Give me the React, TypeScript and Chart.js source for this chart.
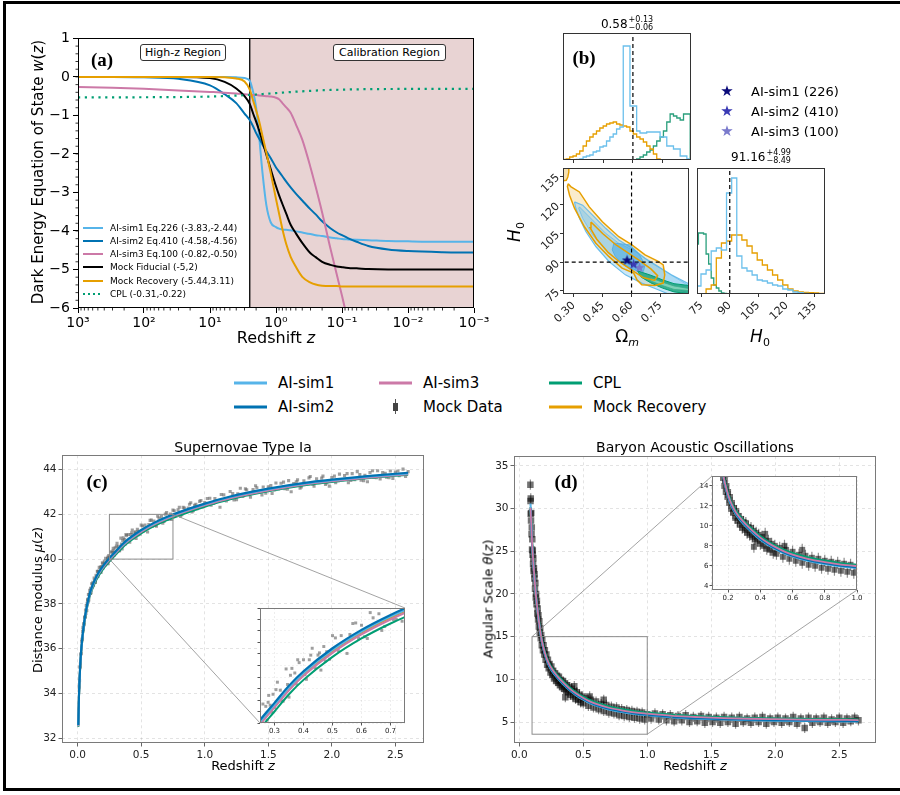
import React, { useEffect, useRef } from "react";
import { Chart, registerables } from "chart.js";

Chart.register(...registerables);

const FONT = "'DejaVu Sans', 'Noto Sans', sans-serif";
const SERIF = "'Liberation Serif', 'DejaVu Serif', serif";
Chart.defaults.font.family = FONT;
Chart.defaults.color = "#000";

const C_SIM1 = "#56B4E9";
const C_SIM2 = "#0072B2";
const C_SIM3 = "#CC79A7";
const C_FID = "#000000";
const C_REC = "#E69F00";
const C_CPL = "#009E73";

// ================= Panel (a): dark energy equation of state =================
const wZ = [1000, 300, 100, 30, 10, 6, 4, 3, 2.5, 2.2, 2.0, 1.8, 1.6, 1.4, 1.2, 1.0, 0.9, 0.8, 0.7, 0.6, 0.5, 0.4, 0.3, 0.25, 0.2, 0.15, 0.12, 0.1, 0.08, 0.06, 0.04, 0.02, 0.01, 0.003, 0.001];
const wSim1 = [0, 0, 0, 0, 0, 0, -0.01, -0.03, -0.1, -0.42, -0.8, -1.55, -2.5, -3.33, -3.78, -3.9, -3.94, -3.96, -3.97, -3.98, -4.01, -4.04, -4.08, -4.11, -4.13, -4.17, -4.19, -4.21, -4.22, -4.23, -4.24, -4.26, -4.27, -4.28, -4.28];
const wSim2 = [0, 0, -0.01, -0.05, -0.22, -0.45, -0.68, -0.95, -1.12, -1.3, -1.46, -1.6, -1.76, -1.93, -2.11, -2.35, -2.46, -2.58, -2.72, -2.87, -3.03, -3.21, -3.44, -3.57, -3.75, -3.93, -4.04, -4.11, -4.19, -4.28, -4.39, -4.48, -4.52, -4.55, -4.56];
const wSim3 = [-0.26, -0.28, -0.31, -0.35, -0.39, -0.41, -0.43, -0.45, -0.46, -0.47, -0.47, -0.48, -0.49, -0.5, -0.51, -0.54, -0.58, -0.68, -0.79, -0.93, -1.23, -1.63, -2.35, -2.86, -3.52, -4.45, -5.13, -5.68, -6.4, -7.3, -8.5, -10.5, -12.5, -16, -19];
const wFid = [0, 0, 0, 0, -0.03, -0.13, -0.3, -0.5, -0.7, -0.97, -1.16, -1.39, -1.68, -2.02, -2.4, -2.84, -3.07, -3.3, -3.55, -3.84, -4.06, -4.31, -4.58, -4.68, -4.8, -4.88, -4.92, -4.94, -4.96, -4.97, -4.99, -5.0, -5.0, -5.0, -5.0];
const wRec = [0, 0, 0, 0, 0, -0.01, -0.04, -0.12, -0.33, -0.64, -0.87, -1.15, -1.54, -1.97, -2.5, -3.17, -3.54, -3.95, -4.34, -4.67, -4.93, -5.19, -5.34, -5.39, -5.42, -5.43, -5.43, -5.44, -5.44, -5.44, -5.44, -5.44, -5.44, -5.44, -5.44];
const wCPL = [-0.53, -0.53, -0.528, -0.523, -0.51, -0.499, -0.486, -0.475, -0.467, -0.461, -0.457, -0.451, -0.445, -0.438, -0.43, -0.42, -0.414, -0.408, -0.401, -0.393, -0.383, -0.373, -0.361, -0.354, -0.347, -0.339, -0.334, -0.33, -0.326, -0.322, -0.318, -0.314, -0.312, -0.311, -0.31];
const wLegendLabels = ["AI-sim1 Eq.226 (-3.83,-2.44)", "AI-sim2 Eq.410 (-4.58,-4.56)", "AI-sim3 Eq.100 (-0.82,-0.50)", "Mock Fiducial (-5,2)", "Mock Recovery (-5.44,3.11)", "CPL (-0.31,-0.22)"];
const wXTicks = [1000, 100, 10, 1, 0.1, 0.01, 0.001];
const wXTickLabels = ["10³", "10²", "10¹", "10⁰", "10⁻¹", "10⁻²", "10⁻³"];
const wYTicks = [1, 0, -1, -2, -3, -4, -5, -6];
const wXRange = [0.001, 1000];
const wYRange = [-6, 1];
const calibZ = [2.5, 0.001];

// ================= Panel (b): corner plot =================
const omRange = [0.245, 0.895];
const h0Range = [73.4, 139.2];
const h0HistRange = [72.7, 140.3];
const omTicks = [0.3, 0.45, 0.6, 0.75];
const h0Ticks = [75, 90, 105, 120, 135];
const omTruth = 0.6;
const h0Truth = 90;
const omEdges = [0.245, 0.262, 0.279, 0.296, 0.313, 0.33, 0.347, 0.364, 0.381, 0.398, 0.415, 0.432, 0.449, 0.466, 0.483, 0.5, 0.517, 0.534, 0.551, 0.568, 0.585, 0.602, 0.619, 0.636, 0.653, 0.67, 0.687, 0.704, 0.721, 0.738, 0.755, 0.772, 0.789, 0.806, 0.823, 0.84, 0.857, 0.874, 0.891];
const omHistSim1 = [0, 0, 0, 0, 0.5, 1, 3, 4, 5, 8, 9, 13, 14, 19, 23, 26, 31, 33, 114, 114, 54, 54, 29, 27, 27, 28, 28, 28, 28, 23, 23, 14, 14, 11, 11, 4, 4, 1];
const omHistRec = [0.5, 1, 3, 4, 6, 9, 14, 19, 23, 26, 29, 32, 34, 36, 37, 38, 36, 35, 34, 33, 29, 26, 23, 21, 18, 14, 11, 6, 1, 0, 0, 0, 0, 0, 0, 0, 0, 0];
const omHistCPL = [0, 0, 0, 0, 0, 0, 0, 0, 0, 0, 0, 0, 0, 0, 0, 0, 0, 0, 0, 0, 0, 0, 1, 3, 5, 8, 10, 14, 19, 23, 29, 38, 46, 44, 42, 40, 46, 46];
const h0Edges = [72.1, 74.8, 77.5, 80.2, 82.9, 85.6, 88.3, 91.0, 93.7, 96.4, 99.1, 101.8, 104.5, 107.2, 109.9, 112.6, 115.3, 118.0, 120.7, 123.4, 126.1, 128.8, 131.5, 134.2, 136.9, 139.6];
const h0HistSim1 = [8, 20, 24, 43, 46, 44, 101, 116, 38, 26, 23, 19, 14, 13, 11, 9, 8, 5, 4, 2, 1.3, 0.7, 0, 0, 0];
const h0HistRec = [0, 0, 5, 9, 36, 51, 53, 59, 59, 54, 48, 41, 34, 29, 24, 19, 14, 9, 5, 3, 2, 1.7, 1.3, 1, 0.7];
const h0EdgesCPL = [72.1, 73.45, 74.8, 76.15, 77.5, 78.85, 80.2, 81.55, 82.9, 84.25, 85.6, 86.95, 88.3];
const h0HistCPL = [50, 61, 61, 60, 40, 30, 16, 9, 6, 3, 1, 0.5];

const ctrRecBlobOm = [0.245, 0.276, 0.275, 0.27, 0.262, 0.245];
const ctrRecBlobH0 = [140, 140, 137, 134.5, 132.8, 132.5];
const ctrRecOuterOm = [0.272, 0.285, 0.33, 0.381, 0.449, 0.534, 0.602, 0.67, 0.738, 0.764, 0.772, 0.764, 0.721, 0.653, 0.628, 0.611, 0.551, 0.483, 0.415, 0.356, 0.305, 0.279, 0.268];
const ctrRecOuterH0 = [131.0, 129.5, 126.7, 118.9, 111.1, 103.3, 99.0, 93.8, 90.4, 88.6, 83.4, 79.1, 77.9, 78.2, 80.8, 84.3, 86.9, 92.9, 99.9, 108.5, 118.1, 125.0, 129.5];
const ctrRecInnerOm = [0.39, 0.45, 0.52, 0.58, 0.64, 0.7, 0.735, 0.72, 0.66, 0.6, 0.54, 0.48, 0.42, 0.385];
const ctrRecInnerH0 = [111, 105, 99, 95, 91, 86.5, 83, 80.5, 82, 86, 90, 95, 102, 108];
const ctrSim1OuterOm = [0.3045, 0.347, 0.398, 0.466, 0.534, 0.602, 0.67, 0.738, 0.806, 0.9, 0.9, 0.8, 0.738, 0.653, 0.568, 0.483, 0.415, 0.364, 0.33, 0.3095];
const ctrSim1OuterH0 = [121.5, 119.8, 114.6, 107.7, 101.6, 97.3, 92.1, 87.8, 83.4, 78.5, 73, 73, 75.6, 79.1, 83.4, 90.4, 98.2, 105.9, 112.9, 118.9];
const ctrSim1MidOm = [0.33, 0.398, 0.466, 0.534, 0.619, 0.704, 0.789, 0.9, 0.9, 0.789, 0.704, 0.619, 0.534, 0.466, 0.398, 0.347, 0.3265];
const ctrSim1MidH0 = [118.9, 112, 105.1, 99.9, 95.6, 89.5, 84.3, 77.5, 73.5, 78.2, 82.6, 86.0, 90.4, 96.4, 104.2, 112.9, 118.1];
const ctrSim1CoreOm = [0.5085, 0.5935, 0.636, 0.67, 0.6615, 0.6105, 0.5595, 0.517, 0.5];
const ctrSim1CoreH0 = [100, 99, 94.7, 88.6, 85.2, 86.0, 88.6, 92.9, 96.4];
const ctrCplOuterOm = [0.63, 0.7, 0.76, 0.82, 0.9, 0.9, 0.82, 0.76, 0.7, 0.65];
const ctrCplOuterH0 = [85.5, 83.2, 80.8, 78.8, 77.8, 73.5, 74.5, 76.5, 79.2, 82.2];
const ctrCplInnerOm = [0.7, 0.76, 0.82, 0.9, 0.9, 0.82, 0.76, 0.7];
const ctrCplInnerH0 = [81.8, 79.6, 77.6, 76.2, 75.2, 75.8, 77.8, 80.2];
const starOm = [0.5765, 0.6105, 0.641];
const starH0 = [91.2, 89.1, 87.4];
const starColors = ["#0a0a7a", "#3a3ab4", "#7a7acc"];
const starLabels = ["AI-sim1 (226)", "AI-sim2 (410)", "AI-sim3 (100)"];

// ================= Panel (c): supernovae =================
const snXRange = [-0.123, 2.725];
const snYRange = [31.78, 44.64];
const snXTicks = [0, 0.5, 1, 1.5, 2, 2.5];
const snYTicks = [32, 34, 36, 38, 40, 42, 44];
const snInsetX = [0.25, 0.75];
const snInsetY = [40, 42];
const snInsetXTicks = [0.3, 0.4, 0.5, 0.6, 0.7];
const snInsetYTicks = [40, 40.2, 40.4, 40.6, 40.8, 41, 41.2, 41.4, 41.6, 41.8, 42];
const snCurveZ = [0.0055, 0.01, 0.02, 0.03, 0.05, 0.07, 0.1, 0.15, 0.2, 0.25, 0.3, 0.35, 0.4, 0.5, 0.6, 0.7, 0.8, 1.0, 1.2, 1.5, 1.8, 2.0, 2.3, 2.6];
const muSim1 = [32.56, 33.79, 35.21, 36.05, 37.1, 37.79, 38.53, 39.22, 39.67, 40.02, 40.32, 40.62, 40.87, 41.27, 41.59, 41.85, 42.07, 42.45, 42.77, 43.12, 43.39, 43.52, 43.69, 43.83];
const muSim2 = [32.58, 33.81, 35.24, 36.08, 37.13, 37.82, 38.56, 39.25, 39.7, 40.05, 40.35, 40.65, 40.9, 41.3, 41.62, 41.88, 42.1, 42.48, 42.8, 43.15, 43.42, 43.55, 43.72, 43.86];
const muSim3 = [32.53, 33.76, 35.18, 36.02, 37.07, 37.75, 38.49, 39.17, 39.62, 39.97, 40.27, 40.57, 40.82, 41.22, 41.54, 41.8, 42.02, 42.4, 42.72, 43.07, 43.35, 43.48, 43.65, 43.79];
const muCPL = [32.5, 33.73, 35.15, 35.98, 37.02, 37.7, 38.43, 39.1, 39.55, 39.9, 40.2, 40.5, 40.75, 41.15, 41.47, 41.73, 41.95, 42.34, 42.67, 43.03, 43.31, 43.45, 43.63, 43.77];
const muRec = [32.55, 33.77, 35.2, 36.03, 37.08, 37.77, 38.51, 39.2, 39.65, 40.0, 40.3, 40.6, 40.85, 41.25, 41.57, 41.83, 42.05, 42.43, 42.75, 43.1, 43.37, 43.5, 43.67, 43.81];
const snZLow = [0.012, 0.015, 0.018, 0.022, 0.025, 0.028, 0.032, 0.035, 0.038, 0.042, 0.045, 0.048, 0.052, 0.055, 0.058, 0.062, 0.065, 0.068, 0.072, 0.075, 0.078, 0.082, 0.085, 0.088, 0.092, 0.095, 0.098, 0.102, 0.106, 0.11, 0.115, 0.12, 0.125, 0.13, 0.135, 0.14, 0.145, 0.15, 0.155, 0.16, 0.165, 0.17, 0.175, 0.18, 0.185, 0.19, 0.195, 0.2, 0.21, 0.215, 0.22, 0.23, 0.235, 0.24, 0.245, 0.25, 0.255, 0.26, 0.265, 0.27, 0.275, 0.28, 0.285, 0.29, 0.295];
const snMuLow = [34.28, 34.57, 35.17, 35.32, 35.75, 35.78, 36.33, 36.41, 36.46, 36.95, 36.86, 37.12, 37.07, 37.39, 37.42, 37.72, 37.57, 37.92, 37.7, 38.02, 38.17, 38.07, 38.42, 38.18, 38.43, 38.6, 38.46, 38.69, 38.5, 38.9, 38.72, 38.96, 38.81, 39.15, 39.06, 38.96, 39.28, 39.21, 39.46, 39.22, 39.47, 39.63, 39.4, 39.64, 39.42, 39.67, 39.84, 39.6, 39.91, 39.74, 40.04, 39.79, 40.02, 39.8, 40.16, 40.07, 39.96, 40.33, 40.09, 40.29, 40.05, 40.48, 40.31, 40.19, 40.5];
const snZMid = [0.3, 0.31, 0.32, 0.33, 0.34, 0.345, 0.35, 0.36, 0.37, 0.375, 0.38, 0.39, 0.4, 0.41, 0.42, 0.43, 0.44, 0.45, 0.46, 0.47, 0.48, 0.49, 0.5, 0.52, 0.53, 0.55, 0.56, 0.58, 0.59, 0.6, 0.62, 0.63, 0.65, 0.66, 0.68, 0.7, 0.71, 0.73, 0.74, 0.76, 0.78, 0.8, 0.82, 0.84, 0.86, 0.88, 0.9, 0.92, 0.94, 0.96, 0.98];
const snMuMid = [40.27, 40.71, 40.57, 40.38, 40.94, 40.67, 40.45, 40.95, 40.87, 40.68, 41.1, 40.8, 41.1, 40.76, 41.1, 41.3, 40.96, 41.18, 40.92, 41.33, 41.24, 41.11, 41.52, 41.26, 41.52, 41.21, 41.54, 41.74, 41.47, 41.7, 41.47, 41.92, 41.7, 41.9, 41.68, 42.08, 41.8, 42.01, 41.77, 42.16, 41.98, 42.32, 41.99, 42.28, 42.16, 42.45, 42.11, 42.41, 42.25, 42.58, 42.34];
const snZHigh = [1.0, 1.02, 1.05, 1.08, 1.1, 1.12, 1.15, 1.18, 1.2, 1.23, 1.26, 1.28, 1.3, 1.33, 1.36, 1.38, 1.4, 1.43, 1.46, 1.48, 1.5, 1.53, 1.56, 1.58, 1.6, 1.63, 1.66, 1.68, 1.7, 1.73, 1.76, 1.78, 1.8, 1.83, 1.86, 1.88, 1.9, 1.93, 1.96, 1.98, 2.0, 2.03, 2.06, 2.08, 2.1, 2.13, 2.16, 2.18, 2.2, 2.23, 2.26, 2.28, 2.3, 2.33, 2.36, 2.38, 2.4, 2.43, 2.46, 2.48, 2.5, 2.53, 2.56, 2.58, 2.6];
const snMuHigh = [42.53, 42.71, 42.41, 42.71, 42.59, 42.32, 42.87, 42.67, 43.02, 42.64, 42.92, 43.17, 42.8, 43.1, 42.77, 43.11, 43.28, 43.01, 43.22, 42.95, 43.23, 42.93, 43.4, 43.14, 43.39, 43.15, 43.51, 43.01, 43.38, 43.54, 43.23, 43.5, 43.37, 43.69, 43.26, 43.59, 43.41, 43.71, 43.4, 43.26, 43.65, 43.42, 43.8, 43.55, 43.73, 43.41, 43.82, 43.55, 43.91, 43.53, 43.75, 43.46, 43.87, 43.65, 43.95, 43.58, 43.87, 43.66, 43.94, 43.6, 43.89, 43.73, 44.02, 43.7, 43.91];
const snZExtra = [0.02, 0.04, 0.06, 0.08, 0.1, 0.118, 0.138, 0.158, 0.178, 0.198, 0.218, 0.238, 0.258, 0.278, 0.305, 0.325, 0.355, 0.385, 0.405, 0.425, 0.455, 0.475, 0.51, 0.54, 0.57, 0.61, 0.64, 0.67, 0.69, 0.72, 0.75, 0.77, 0.79, 0.81, 0.83, 0.85, 0.87, 0.89, 0.91, 0.93, 0.95, 0.97, 0.99, 1.04, 1.07, 1.13, 1.17, 1.22, 1.25, 1.32, 1.35, 1.41, 1.45, 1.52, 1.55, 1.62, 1.65, 1.72, 1.75, 1.82, 1.85, 1.92, 1.95, 2.02, 2.05, 2.12, 2.15, 2.22, 2.25, 2.32, 2.35, 2.42, 2.45, 2.52, 2.55];
const snMuExtra = [35.19, 36.77, 37.42, 38.2, 38.46, 38.89, 38.98, 39.44, 39.44, 39.79, 39.75, 40.09, 40.04, 40.36, 40.58, 40.38, 40.83, 41.05, 40.84, 41.18, 41.22, 41.08, 41.48, 41.38, 41.73, 41.5, 41.83, 41.61, 42.01, 41.8, 42.19, 41.98, 42.2, 41.92, 42.31, 42.1, 42.28, 42.52, 42.16, 42.45, 42.34, 42.62, 42.34, 42.72, 42.49, 42.89, 42.6, 42.93, 42.66, 43.14, 42.88, 43.19, 42.87, 43.29, 43.09, 43.44, 43.13, 43.45, 43.17, 43.63, 43.35, 43.62, 43.34, 43.71, 43.5, 43.82, 43.52, 43.78, 43.51, 43.95, 43.64, 43.83, 43.64, 43.94, 43.79];

// ================= Panel (d): BAO =================
const baoXRange = [-0.041, 2.787];
const baoYRange = [2.54, 36.13];
const baoXTicks = [0, 0.5, 1, 1.5, 2, 2.5];
const baoYTicks = [5, 10, 15, 20, 25, 30, 35];
const baoInsetX = [0.1, 1.0];
const baoInsetY = [3.57, 15];
const baoInsetXTicks = [0.2, 0.4, 0.6, 0.8, 1.0];
const baoInsetYTicks = [4, 6, 8, 10, 12, 14];
const BAO_ERR = 0.6;
const baoCurveZ = [0.088, 0.1, 0.11, 0.12, 0.13, 0.14, 0.15, 0.16, 0.17, 0.18, 0.2, 0.22, 0.25, 0.3, 0.35, 0.4, 0.45, 0.5, 0.55, 0.6, 0.7, 0.8, 0.9, 1.0, 1.2, 1.4, 1.6, 1.8, 2.0, 2.2, 2.4, 2.65];
const thSim1 = [30.6, 25.9, 23.5, 21.5, 19.7, 18.3, 17.0, 15.9, 14.9, 14.1, 12.9, 12.0, 11.1, 10.1, 9.32, 8.62, 8.07, 7.62, 7.22, 6.92, 6.47, 6.17, 5.93, 5.78, 5.53, 5.38, 5.28, 5.2, 5.15, 5.11, 5.08, 5.05];
const thSim2 = [30.0, 26.0, 23.6, 21.6, 19.8, 18.4, 17.1, 16.0, 15.0, 14.2, 13.0, 12.1, 11.2, 10.2, 9.4, 8.7, 8.15, 7.7, 7.3, 7.0, 6.55, 6.25, 6.0, 5.85, 5.6, 5.45, 5.35, 5.27, 5.22, 5.18, 5.15, 5.12];
const thSim3 = [30.1, 26.1, 23.7, 21.7, 19.9, 18.5, 17.2, 16.1, 15.1, 14.3, 13.12, 12.22, 11.32, 10.32, 9.52, 8.82, 8.27, 7.82, 7.42, 7.12, 6.67, 6.37, 6.12, 5.97, 5.72, 5.57, 5.46, 5.38, 5.33, 5.29, 5.26, 5.23];
const thCPL = [30.2, 26.3, 23.9, 21.9, 20.1, 18.7, 17.4, 16.3, 15.3, 14.5, 13.28, 12.38, 11.48, 10.48, 9.68, 8.98, 8.43, 7.98, 7.58, 7.28, 6.83, 6.52, 6.26, 6.1, 5.84, 5.68, 5.56, 5.47, 5.41, 5.37, 5.33, 5.3];
const thRec = [30.0, 26.0, 23.6, 21.6, 19.8, 18.4, 17.1, 16.0, 15.0, 14.2, 13.03, 12.13, 11.23, 10.23, 9.43, 8.73, 8.18, 7.73, 7.33, 7.03, 6.58, 6.28, 6.03, 5.88, 5.63, 5.48, 5.38, 5.3, 5.25, 5.21, 5.18, 5.15];
const baoZLow = [0.087, 0.088, 0.089, 0.09, 0.092, 0.094, 0.096, 0.098, 0.1, 0.102, 0.104, 0.106, 0.108, 0.11, 0.112, 0.115, 0.118, 0.12, 0.123, 0.126, 0.129, 0.132, 0.135, 0.138, 0.141, 0.144, 0.147, 0.15, 0.153, 0.157, 0.16, 0.164, 0.168, 0.172, 0.176, 0.18, 0.185, 0.19, 0.195, 0.2, 0.206, 0.212, 0.218, 0.224, 0.23, 0.237, 0.244, 0.251, 0.258, 0.265, 0.272, 0.28, 0.288, 0.296];
const baoThLow = [32.8, 30.9, 29.4, 31.2, 28.6, 29.5, 27.0, 27.8, 25.2, 26.4, 24.6, 25.1, 23.5, 24.2, 22.7, 23.0, 21.8, 22.3, 20.6, 21.3, 19.6, 20.0, 18.8, 19.2, 17.7, 18.3, 17.0, 17.5, 16.2, 16.8, 15.5, 16.0, 14.8, 15.2, 14.0, 14.6, 13.4, 14.0, 12.9, 13.4, 12.3, 12.9, 11.7, 12.3, 11.3, 11.8, 10.8, 11.5, 10.5, 11.0, 10.1, 10.7, 9.8, 10.4];
const baoZMid = [0.304, 0.31, 0.318, 0.326, 0.334, 0.342, 0.35, 0.358, 0.36, 0.366, 0.374, 0.382, 0.39, 0.4, 0.41, 0.42, 0.43, 0.43, 0.44, 0.45, 0.46, 0.47, 0.48, 0.49, 0.5, 0.52, 0.54, 0.55, 0.56, 0.58, 0.6, 0.62, 0.64, 0.66, 0.66, 0.68, 0.7, 0.72, 0.74, 0.76, 0.78, 0.8, 0.82, 0.84, 0.86, 0.88, 0.9, 0.92, 0.94, 0.96, 0.98];
const baoThMid = [9.6, 10.3, 9.3, 9.9, 9.1, 9.8, 8.9, 9.5, 7.9, 8.7, 9.3, 8.5, 9.1, 8.2, 8.9, 8.0, 8.6, 9.2, 7.7, 8.5, 7.6, 8.2, 7.3, 8.0, 7.2, 7.8, 6.9, 8.0, 7.6, 6.7, 7.4, 6.5, 7.1, 6.3, 7.6, 7.0, 6.1, 6.8, 6.0, 6.7, 5.8, 6.5, 5.7, 6.4, 5.6, 6.3, 5.5, 6.2, 5.4, 6.1, 5.3];
const baoZHigh = [1.0, 1.03, 1.06, 1.09, 1.12, 1.15, 1.18, 1.21, 1.24, 1.27, 1.3, 1.33, 1.36, 1.39, 1.42, 1.45, 1.48, 1.51, 1.54, 1.57, 1.6, 1.63, 1.66, 1.69, 1.72, 1.75, 1.78, 1.81, 1.84, 1.87, 1.9, 1.93, 1.96, 1.99, 2.02, 2.05, 2.08, 2.11, 2.14, 2.17, 2.2, 2.23, 2.26, 2.29, 2.32, 2.35, 2.38, 2.41, 2.44, 2.47, 2.5, 2.53, 2.56, 2.59, 2.62, 2.65];
const baoThHigh = [5.9, 5.4, 6.0, 5.3, 5.9, 5.2, 5.8, 5.1, 5.7, 5.2, 5.8, 5.0, 5.6, 5.1, 5.7, 4.9, 5.6, 5.0, 5.5, 4.9, 5.6, 5.0, 5.5, 4.8, 5.6, 5.0, 5.4, 4.9, 5.5, 5.0, 5.6, 4.8, 5.4, 5.0, 5.5, 4.9, 5.4, 5.0, 5.6, 4.8, 5.4, 4.3, 5.5, 4.9, 5.4, 5.0, 5.5, 4.9, 5.3, 5.0, 5.5, 4.9, 5.4, 5.1, 5.5, 5.2];

// ================= helpers =================
const pts = (xs: number[], ys: number[]) => xs.map((x, i) => ({ x, y: ys[i] }));
const steps = (edges: number[], h: number[]) => {
  const out = [{ x: edges[0], y: 0 }];
  h.forEach((v, i) => out.push({ x: edges[i], y: v }));
  out.push({ x: edges[h.length], y: 0 });
  return out;
};
const lineDs = (data: any[], color: string, width: number, order: number, extra: any = {}) => ({
  data, borderColor: color, backgroundColor: color, borderWidth: width, pointRadius: 0, fill: false, tension: 0, order, ...extra,
});
const polyDs = (om: number[], h0: number[], fillColor: string, border: string, bw: number, order: number) => ({
  data: pts(om.concat([om[0]]), h0.concat([h0[0]])), borderColor: border, backgroundColor: fillColor, borderWidth: bw,
  pointRadius: 0, fill: fillColor === "none" ? false : "shape", tension: 0, order,
});

const framePlugin = (color: string, width = 1) => ({
  id: "frame",
  afterDraw(chart: any) {
    const { ctx, chartArea: a } = chart;
    ctx.save();
    ctx.strokeStyle = color;
    ctx.lineWidth = width;
    ctx.strokeRect(Math.round(a.left) + 0.5, Math.round(a.top) + 0.5, Math.round(a.right - a.left) - 1, Math.round(a.bottom - a.top) - 1);
    ctx.restore();
  },
});
const bgPlugin = (color: string) => ({
  id: "bg",
  beforeDraw(chart: any) {
    const { ctx, chartArea: a } = chart;
    ctx.save();
    ctx.fillStyle = color;
    ctx.fillRect(a.left, a.top, a.right - a.left, a.bottom - a.top);
    ctx.restore();
  },
});
const minorPlugin = (xs: number[], ys: number[], len: number) => ({
  id: "minor",
  afterDraw(chart: any) {
    const { ctx, chartArea: a } = chart;
    const sx = chart.scales.x, sy = chart.scales.y;
    ctx.save();
    ctx.strokeStyle = "#000";
    ctx.lineWidth = 0.8;
    ctx.beginPath();
    xs.forEach((v) => {
      const p = sx.getPixelForValue(v);
      if (p > a.left + 0.5 && p < a.right - 0.5) { ctx.moveTo(p, a.bottom); ctx.lineTo(p, a.bottom + len); }
    });
    ys.forEach((v) => {
      const p = sy.getPixelForValue(v);
      if (p > a.top + 0.5 && p < a.bottom - 0.5) { ctx.moveTo(a.left, p); ctx.lineTo(a.left - len, p); }
    });
    ctx.stroke();
    ctx.restore();
  },
});
const errPlugin = {
  id: "errbars",
  beforeDatasetDraw(chart: any, args: any) {
    const ds: any = chart.data.datasets[args.index];
    if (!ds.errY) return;
    const { ctx, chartArea: a } = chart;
    const sx = chart.scales.x, sy = chart.scales.y;
    ctx.save();
    ctx.beginPath();
    ctx.rect(a.left, a.top, a.right - a.left, a.bottom - a.top);
    ctx.clip();
    ctx.strokeStyle = ds.errColor;
    ctx.lineWidth = 1.2;
    ctx.beginPath();
    ds.data.forEach((p: any) => {
      const px = sx.getPixelForValue(p.x);
      ctx.moveTo(px, sy.getPixelForValue(p.y - ds.errY));
      ctx.lineTo(px, sy.getPixelForValue(p.y + ds.errY));
    });
    ctx.stroke();
    ctx.restore();
  },
};
// zoom rectangle + connector lines to an inset (inset given in canvas coordinates)
const markPlugin = (rx: number[], ry: number[], inset: any, links: string[][]) => ({
  id: "mark",
  afterDatasetsDraw(chart: any) {
    const { ctx } = chart;
    const sx = chart.scales.x, sy = chart.scales.y;
    const L = sx.getPixelForValue(rx[0]), R = sx.getPixelForValue(rx[1]);
    const T = sy.getPixelForValue(ry[1]), B = sy.getPixelForValue(ry[0]);
    const rc: any = { tl: [L, T], tr: [R, T], bl: [L, B], br: [R, B] };
    const ic: any = {
      tl: [inset.x, inset.y], tr: [inset.x + inset.w, inset.y],
      bl: [inset.x, inset.y + inset.h], br: [inset.x + inset.w, inset.y + inset.h],
    };
    ctx.save();
    ctx.strokeStyle = "#8c8c8c";
    ctx.lineWidth = 1;
    ctx.strokeRect(L, T, R - L, B - T);
    ctx.lineWidth = 0.8;
    ctx.beginPath();
    links.forEach(([a, b]) => { ctx.moveTo(rc[a][0], rc[a][1]); ctx.lineTo(ic[b][0], ic[b][1]); });
    ctx.stroke();
    ctx.restore();
  },
});

function starCanvas(color: string, size: number) {
  const c = document.createElement("canvas");
  c.width = size; c.height = size;
  const ctx = c.getContext("2d") as CanvasRenderingContext2D;
  const cx = size / 2, cy = size / 2 + 0.5, R = size / 2, r = R * 0.42;
  ctx.beginPath();
  for (let i = 0; i < 10; i++) {
    const ang = -Math.PI / 2 + (i * Math.PI) / 5;
    const rad = i % 2 === 0 ? R : r;
    ctx.lineTo(cx + rad * Math.cos(ang), cy + rad * Math.sin(ang));
  }
  ctx.closePath();
  ctx.fillStyle = color;
  ctx.fill();
  return c;
}

function axis(o: any) {
  return {
    type: o.type || "linear",
    reverse: !!o.reverse,
    min: o.range[0],
    max: o.range[1],
    display: o.display === undefined ? true : o.display,
    afterBuildTicks: (s: any) => { s.ticks = (o.ticks || []).map((v: number) => ({ value: v })); },
    ticks: {
      display: o.labels !== false,
      callback: o.fmt || ((v: any) => String(v)),
      font: { size: o.font || 10, family: FONT },
      color: o.color || "#000",
      padding: o.pad === undefined ? 2 : o.pad,
      autoSkip: false,
      minRotation: o.rot || 0,
      maxRotation: o.rot || 0,
    },
    grid: {
      drawOnChartArea: !!o.grid,
      color: o.grid || "rgba(0,0,0,0)",
      drawTicks: true,
      tickLength: o.tickLen || 4,
      tickColor: o.tickColor || "#000",
      tickWidth: 1,
    },
    border: { display: false, dash: o.dash || [] },
    afterFit: o.fit,
  };
}

function baseOptions(m: any, scales: any, padLeft = 0, padBottom = 0) {
  return {
    responsive: false,
    maintainAspectRatio: false,
    animation: false,
    events: [],
    layout: { padding: { left: padLeft, right: m.r, top: m.t, bottom: padBottom } },
    plugins: { legend: { display: false }, tooltip: { enabled: false } },
    scales,
  };
}

function Plot(props: any) {
  const { area, m, make } = props;
  const ref = useRef<HTMLCanvasElement | null>(null);
  useEffect(() => {
    const chart = new Chart(ref.current as HTMLCanvasElement, make(area, m));
    return () => chart.destroy();
  }, []);
  const W = area.w + m.l + m.r;
  const H = area.h + m.t + m.b;
  return (
    <canvas ref={ref} width={W} height={H}
      style={{ position: "absolute", left: area.x - m.l, top: area.y - m.t, width: W, height: H }} />
  );
}

function T(props: any) {
  const { x, y, size = 13, rot = 0, weight = "normal", family = FONT, anchor = "center", color = "#000", children } = props;
  const tx = anchor === "left" ? "0" : "-50%";
  return (
    <div style={{
      position: "absolute", left: x, top: y, transform: `translate(${tx},-50%) rotate(${rot}deg)`,
      fontSize: size, fontFamily: family, fontWeight: weight, whiteSpace: "nowrap", lineHeight: 1, color,
    }}>{children}</div>
  );
}

function LineSample(props: any) {
  const { x, y, w, color, width = 2, dash } = props;
  return (
    <svg style={{ position: "absolute", left: x, top: y - 3 }} width={w} height={6}>
      <line x1={0} y1={3} x2={w} y2={3} stroke={color} strokeWidth={width} strokeDasharray={dash} />
    </svg>
  );
}

// ================= layout areas (page pixels) =================
const A_AREA = { x: 78, y: 37, w: 396, h: 271 };
const B_TOP = { x: 563, y: 33, w: 128, h: 127 };
const B_2D = { x: 563, y: 168, w: 128, h: 126 };
const B_RIGHT = { x: 697, y: 168, w: 128, h: 126 };
const C_AREA = { x: 62, y: 455, w: 362, h: 288 };
const C_INSET = { x: 260, y: 608, w: 145, h: 115 };
const D_AREA = { x: 514, y: 456, w: 362, h: 287 };
const D_INSET = { x: 712, y: 476, w: 145, h: 114 };

const minus = (v: number) => (v < 0 ? "\u2212" + Math.abs(v) : String(v));

// ---------- (a)
function makeA(area: any, m: any) {
  const xMinor: number[] = [];
  [-3, -2, -1, 0, 1, 2].forEach((d) => { for (let k = 2; k <= 9; k++) xMinor.push(k * Math.pow(10, d)); });
  const yMinor: number[] = [];
  for (let v = -6; v <= 1.001; v += 0.2) yMinor.push(Math.round(v * 10) / 10);
  const scales = {
    x: axis({
      type: "logarithmic", reverse: true, range: wXRange, ticks: wXTicks, font: 14, tickLen: 5, pad: 2,
      fmt: (v: number) => { const i = wXTicks.findIndex((t) => Math.abs(Math.log10(t) - Math.log10(v)) < 1e-6); return i >= 0 ? wXTickLabels[i] : ""; },
      fit: (s: any) => { s.height = m.b; },
    }),
    y: axis({ range: wYRange, ticks: wYTicks, font: 14, tickLen: 5, pad: 3, fmt: minus, fit: (s: any) => { s.width = m.l; } }),
  };
  return {
    type: "line",
    data: {
      datasets: [
        { ...lineDs(pts(calibZ, [wYRange[1], wYRange[1]]), "rgba(0,0,0,0)", 0, 20), fill: { value: wYRange[0] }, backgroundColor: "rgba(200,150,150,0.42)" },
        lineDs(pts([calibZ[0], calibZ[0]], wYRange), "#000", 1.3, 19),
        lineDs(pts(wZ, wSim1), C_SIM1, 2, 6, { cubicInterpolationMode: "monotone" }),
        lineDs(pts(wZ, wSim2), C_SIM2, 2, 5, { cubicInterpolationMode: "monotone" }),
        lineDs(pts(wZ, wSim3), C_SIM3, 2, 4, { cubicInterpolationMode: "monotone" }),
        lineDs(pts(wZ, wFid), C_FID, 2, 3, { cubicInterpolationMode: "monotone" }),
        lineDs(pts(wZ, wRec), C_REC, 2, 2, { cubicInterpolationMode: "monotone" }),
        lineDs(pts(wZ, wCPL), C_CPL, 2.2, 1, { borderDash: [2.2, 4.6], cubicInterpolationMode: "monotone" }),
      ],
    },
    options: baseOptions(m, scales),
    plugins: [framePlugin("#000"), minorPlugin(xMinor, yMinor, 2.5)],
  };
}

// ---------- (b)
function makeBTop(area: any, m: any) {
  const scales = {
    x: axis({ range: omRange, ticks: omTicks, labels: false, tickLen: 3, tickColor: "#333", fit: (s: any) => { s.height = m.b; } }),
    y: { type: "linear", min: 0, max: 127, display: false },
  };
  return {
    type: "line",
    data: {
      datasets: [
        lineDs(steps(omEdges, omHistRec), C_REC, 1.3, 3, { stepped: true }),
        lineDs(steps(omEdges, omHistSim1), "#6cc0ec", 1.3, 2, { stepped: true }),
        lineDs(steps(omEdges, omHistCPL), "#2a9f7c", 1.3, 4, { stepped: true }),
        lineDs(pts([omTruth, omTruth], [0, 127]), "#000", 1.2, 1, { borderDash: [4, 3] }),
      ],
    },
    options: baseOptions(m, scales, m.l, 0),
    plugins: [framePlugin("#333")],
  };
}

function makeB2D(area: any, m: any) {
  const scales = {
    x: axis({ range: omRange, ticks: omTicks, font: 11, rot: 45, tickLen: 3, tickColor: "#333", color: "#222", fmt: (v: number) => v.toFixed(2), fit: (s: any) => { s.height = m.b; } }),
    y: axis({ range: h0Range, ticks: h0Ticks, font: 11, rot: 45, tickLen: 3, tickColor: "#333", color: "#222", fit: (s: any) => { s.width = m.l; } }),
  };
  const stars = starOm.map((om, i) => ({
    data: [{ x: om, y: starH0[i] }], showLine: false, pointStyle: starCanvas(starColors[i], 11), pointRadius: 5.5, order: 1,
  }));
  return {
    type: "line",
    data: {
      datasets: [
        polyDs(ctrRecBlobOm, ctrRecBlobH0, "rgba(230,159,0,0.3)", C_REC, 1.4, 21),
        polyDs(ctrRecOuterOm, ctrRecOuterH0, "rgba(230,159,0,0.2)", "rgba(0,0,0,0)", 0, 20),
        polyDs(ctrSim1OuterOm, ctrSim1OuterH0, "rgba(140,205,240,0.45)", "#6dbdea", 1.2, 19),
        polyDs(ctrSim1MidOm, ctrSim1MidH0, "rgba(110,190,236,0.32)", "rgba(86,180,233,0.6)", 1, 18),
        polyDs(ctrSim1CoreOm, ctrSim1CoreH0, "rgba(70,170,230,0.55)", "#5aaee0", 1, 17),
        polyDs(ctrCplOuterOm, ctrCplOuterH0, "rgba(20,160,118,0.8)", C_CPL, 1, 16),
        polyDs(ctrCplInnerOm, ctrCplInnerH0, "rgba(140,215,190,0.85)", "#3aae8a", 0.8, 15),
        polyDs(ctrRecOuterOm, ctrRecOuterH0, "none", C_REC, 1.5, 12),
        polyDs(ctrRecInnerOm, ctrRecInnerH0, "none", C_REC, 1.5, 11),
        lineDs(pts([omTruth, omTruth], [0, 300]), "#000", 1.2, 5, { borderDash: [4, 3] }),
        lineDs(pts([0, 2], [h0Truth, h0Truth]), "#000", 1.2, 4, { borderDash: [4, 3] }),
        ...stars,
      ],
    },
    options: baseOptions(m, scales),
    plugins: [framePlugin("#333")],
  };
}

function makeBRight(area: any, m: any) {
  const scales = {
    x: axis({ range: h0HistRange, ticks: h0Ticks, font: 11, rot: 45, tickLen: 3, tickColor: "#333", color: "#222", fit: (s: any) => { s.height = m.b; } }),
    y: { type: "linear", min: 0, max: 126, display: false },
  };
  return {
    type: "line",
    data: {
      datasets: [
        lineDs(steps(h0Edges, h0HistRec), C_REC, 1.3, 3, { stepped: true }),
        lineDs(steps(h0Edges, h0HistSim1), "#6cc0ec", 1.3, 2, { stepped: true }),
        lineDs(steps(h0EdgesCPL, h0HistCPL), "#2a9f7c", 1.3, 4, { stepped: true }),
        lineDs(pts([h0Truth, h0Truth], [0, 126]), "#000", 1.2, 1, { borderDash: [4, 3] }),
      ],
    },
    options: baseOptions(m, scales, m.l, 0),
    plugins: [framePlugin("#333")],
  };
}

// ---------- (c)
const snPoints = () => pts(snZLow.concat(snZMid, snZHigh, snZExtra), snMuLow.concat(snMuMid, snMuHigh, snMuExtra));
const snDatasets = (ptRadius: number) => [
  { data: snPoints(), showLine: false, pointStyle: "rect", pointRadius: ptRadius, pointBorderWidth: 0, backgroundColor: "rgba(95,95,95,0.6)", borderColor: "rgba(0,0,0,0)", order: 10 },
  lineDs(pts(snCurveZ, muRec), C_REC, 2, 7, { cubicInterpolationMode: "monotone" }),
  lineDs(pts(snCurveZ, muCPL), C_CPL, 2, 6, { cubicInterpolationMode: "monotone" }),
  lineDs(pts(snCurveZ, muSim3), C_SIM3, 2, 4, { cubicInterpolationMode: "monotone" }),
  lineDs(pts(snCurveZ, muSim1), C_SIM1, 2, 3, { cubicInterpolationMode: "monotone" }),
  lineDs(pts(snCurveZ, muSim2), C_SIM2, 2.2, 2, { cubicInterpolationMode: "monotone" }),
];
function makeC(area: any, m: any) {
  const scales = {
    x: axis({ range: snXRange, ticks: snXTicks, font: 10.5, tickLen: 3.5, tickColor: "#666", color: "#222", grid: "rgba(0,0,0,0.11)", dash: [3, 3], fmt: (v: number) => v.toFixed(1), fit: (s: any) => { s.height = m.b; } }),
    y: axis({ range: snYRange, ticks: snYTicks, font: 10.5, tickLen: 3.5, tickColor: "#666", color: "#222", grid: "rgba(0,0,0,0.11)", dash: [3, 3], fit: (s: any) => { s.width = m.l; } }),
  };
  const ox = area.x - m.l, oy = area.y - m.t;
  const inset = { x: C_INSET.x - ox, y: C_INSET.y - oy, w: C_INSET.w, h: C_INSET.h };
  return {
    type: "line",
    data: { datasets: snDatasets(2.2) },
    options: baseOptions(m, scales),
    plugins: [framePlugin("#7a7a7a"), markPlugin(snInsetX, snInsetY, inset, [["tr", "tr"], ["bl", "bl"]])],
  };
}
function makeCInset(area: any, m: any) {
  const scales = {
    x: axis({ range: snInsetX, ticks: snInsetXTicks, font: 7, tickLen: 2.5, tickColor: "#555", color: "#222", grid: "rgba(0,0,0,0.07)", dash: [2, 2], fmt: (v: number) => v.toFixed(1), pad: 1, fit: (s: any) => { s.height = m.b; } }),
    y: axis({ range: snInsetY, ticks: snInsetYTicks, labels: false, tickLen: 2.5, tickColor: "#555", grid: "rgba(0,0,0,0.05)", dash: [2, 2], fit: (s: any) => { s.width = m.l; } }),
  };
  return {
    type: "line",
    data: { datasets: snDatasets(2.1) },
    options: baseOptions(m, scales),
    plugins: [bgPlugin("#fff"), framePlugin("#7a7a7a")],
  };
}

// ---------- (d)
const baoDatasets = (ptRadius: number) => [
  {
    data: pts(baoZLow.concat(baoZMid, baoZHigh), baoThLow.concat(baoThMid, baoThHigh)), showLine: false, pointStyle: "rect",
    pointRadius: ptRadius, pointBorderWidth: 0, backgroundColor: "rgba(0,0,0,0.55)", borderColor: "rgba(0,0,0,0)", order: 10,
    errY: BAO_ERR, errColor: "rgba(0,0,0,0.45)",
  },
  lineDs(pts(baoCurveZ, thRec), C_REC, 2, 6, { cubicInterpolationMode: "monotone" }),
  lineDs(pts(baoCurveZ, thCPL), C_CPL, 2, 5, { cubicInterpolationMode: "monotone" }),
  lineDs(pts(baoCurveZ, thSim1), C_SIM1, 2, 4, { cubicInterpolationMode: "monotone" }),
  lineDs(pts(baoCurveZ, thSim2), C_SIM2, 2, 3, { cubicInterpolationMode: "monotone" }),
  lineDs(pts(baoCurveZ, thSim3), C_SIM3, 1.8, 2, { cubicInterpolationMode: "monotone" }),
];
function makeD(area: any, m: any) {
  const scales = {
    x: axis({ range: baoXRange, ticks: baoXTicks, font: 10.5, tickLen: 3.5, tickColor: "#666", color: "#222", grid: "rgba(0,0,0,0.11)", dash: [3, 3], fmt: (v: number) => v.toFixed(1), fit: (s: any) => { s.height = m.b; } }),
    y: axis({ range: baoYRange, ticks: baoYTicks, font: 10.5, tickLen: 3.5, tickColor: "#666", color: "#222", grid: "rgba(0,0,0,0.11)", dash: [3, 3], fit: (s: any) => { s.width = m.l; } }),
  };
  const ox = area.x - m.l, oy = area.y - m.t;
  const inset = { x: D_INSET.x - ox, y: D_INSET.y - oy, w: D_INSET.w, h: D_INSET.h };
  return {
    type: "line",
    data: { datasets: baoDatasets(4.6) },
    options: baseOptions(m, scales),
    plugins: [errPlugin, framePlugin("#7a7a7a"), markPlugin(baoInsetX, baoInsetY, inset, [["tl", "tl"], ["br", "br"]])],
  };
}
function makeDInset(area: any, m: any) {
  const scales = {
    x: axis({ range: baoInsetX, ticks: baoInsetXTicks, font: 7, tickLen: 2.5, tickColor: "#555", color: "#222", grid: "rgba(0,0,0,0.07)", dash: [2, 2], fmt: (v: number) => v.toFixed(1), pad: 1, fit: (s: any) => { s.height = m.b; } }),
    y: axis({ range: baoInsetY, ticks: baoInsetYTicks, font: 7, tickLen: 2.5, tickColor: "#555", color: "#222", grid: "rgba(0,0,0,0.07)", dash: [2, 2], pad: 1, fit: (s: any) => { s.width = m.l; } }),
  };
  return {
    type: "line",
    data: { datasets: baoDatasets(4.2) },
    options: baseOptions(m, scales),
    plugins: [bgPlugin("#fff"), errPlugin, framePlugin("#7a7a7a")],
  };
}

const aLegendRows = [228, 241, 254, 267, 280.5, 294];
const aLegendColors = [C_SIM1, C_SIM2, C_SIM3, C_FID, C_REC, C_CPL];

export default function App() {
  return (
    <div style={{ position: "absolute", left: 0, top: 0, width: 900, height: 795, background: "#fff", overflow: "hidden", fontFamily: FONT }}>
      {/* outer frame */}
      <div style={{ position: "absolute", left: 3, top: 1, width: 897, height: 3, background: "#000" }} />
      <div style={{ position: "absolute", left: 3, top: 1, width: 3, height: 790, background: "#000" }} />
      <div style={{ position: "absolute", left: 3, top: 788, width: 897, height: 3, background: "#000" }} />

      <Plot area={A_AREA} m={{ l: 46, r: 18, t: 10, b: 24 }} make={makeA} />
      <Plot area={B_TOP} m={{ l: 2, r: 4, t: 4, b: 6 }} make={makeBTop} />
      <Plot area={B_2D} m={{ l: 34, r: 4, t: 10, b: 34 }} make={makeB2D} />
      <Plot area={B_RIGHT} m={{ l: 18, r: 14, t: 10, b: 34 }} make={makeBRight} />
      <Plot area={C_AREA} m={{ l: 30, r: 8, t: 8, b: 24 }} make={makeC} />
      <Plot area={C_INSET} m={{ l: 4, r: 8, t: 4, b: 14 }} make={makeCInset} />
      <Plot area={D_AREA} m={{ l: 30, r: 8, t: 8, b: 24 }} make={makeD} />
      <Plot area={D_INSET} m={{ l: 12, r: 8, t: 6, b: 14 }} make={makeDInset} />

      {/* ---- panel (a) texts ---- */}
      <T x={38} y={172} size={15} rot={-90}>Dark Energy Equation of State <i>w</i>(<i>z</i>)</T>
      <T x={276} y={338} size={16}>Redshift <i>z</i></T>
      <T x={102} y={59} size={19} weight="bold" family={SERIF}>(a)</T>
      <div style={{ position: "absolute", left: 140, top: 44, width: 86, height: 17, border: "1px solid #333", borderRadius: 3, background: "#fff", boxSizing: "border-box", fontSize: 11, lineHeight: "15px", textAlign: "center", whiteSpace: "nowrap" }}>High-z Region</div>
      <div style={{ position: "absolute", left: 333, top: 44, width: 113, height: 17, border: "1px solid #333", borderRadius: 3, background: "#fff", boxSizing: "border-box", fontSize: 11, lineHeight: "15px", textAlign: "center", whiteSpace: "nowrap" }}>Calibration Region</div>
      {wLegendLabels.map((lab, i) => (
        <React.Fragment key={lab}>
          <LineSample x={83} y={aLegendRows[i]} w={20} color={aLegendColors[i]} width={2} dash={i === 5 ? "2 3" : undefined} />
          <T x={110} y={aLegendRows[i]} size={9} anchor="left">{lab}</T>
        </React.Fragment>
      ))}

      {/* ---- panel (b) texts ---- */}
      <T x={584} y={57} size={19} weight="bold" family={SERIF}>(b)</T>
      <T x={627} y={24} size={12}>
        0.58<span style={{ display: "inline-block", verticalAlign: "middle", fontSize: 8, lineHeight: "8px", textAlign: "left", marginLeft: 1 }}><div>+0.13</div><div>{"\u2212"}0.06</div></span>
      </T>
      <T x={761} y={157} size={12}>
        91.16<span style={{ display: "inline-block", verticalAlign: "middle", fontSize: 8, lineHeight: "8px", textAlign: "left", marginLeft: 1 }}><div>+4.99</div><div>{"\u2212"}8.49</div></span>
      </T>
      <T x={627} y={338} size={17}>Ω<sub style={{ fontSize: 11 }}><i>m</i></sub></T>
      <T x={760} y={338} size={17}><i>H</i><sub style={{ fontSize: 11 }}>0</sub></T>
      <T x={516} y={232} size={17} rot={-90}><i>H</i><sub style={{ fontSize: 11 }}>0</sub></T>
      {starLabels.map((lab, i) => (
        <React.Fragment key={lab}>
          <T x={727} y={[90.5, 111, 130.5][i]} size={15} color={starColors[i]}>★</T>
          <T x={751} y={[90.5, 111, 130.5][i]} size={13} anchor="left">{lab}</T>
        </React.Fragment>
      ))}

      {/* ---- shared legend ---- */}
      <LineSample x={234} y={383} w={33} color={C_SIM1} width={3} />
      <T x={278} y={383} size={15} anchor="left">AI-sim1</T>
      <LineSample x={234} y={407} w={33} color={C_SIM2} width={3} />
      <T x={278} y={407} size={15} anchor="left">AI-sim2</T>
      <LineSample x={379} y={383} w={33} color={C_SIM3} width={3} />
      <T x={423} y={383} size={15} anchor="left">AI-sim3</T>
      <div style={{ position: "absolute", left: 395, top: 399, width: 1, height: 15, background: "#555" }} />
      <div style={{ position: "absolute", left: 393, top: 403, width: 5, height: 8, background: "#444" }} />
      <T x={423} y={407} size={15} anchor="left">Mock Data</T>
      <LineSample x={549} y={383} w={33} color={C_CPL} width={3} />
      <T x={593} y={383} size={15} anchor="left">CPL</T>
      <LineSample x={549} y={407} w={33} color={C_REC} width={3} />
      <T x={593} y={407} size={15} anchor="left">Mock Recovery</T>

      {/* ---- panel (c) texts ---- */}
      <T x={243} y={447} size={14}>Supernovae Type Ia</T>
      <T x={243} y={765} size={13}>Redshift <i>z</i></T>
      <T x={37} y={600} size={13} rot={-90}>Distance modulus <i>μ</i>(<i>z</i>)</T>
      <T x={97} y={481} size={19} weight="bold" family={SERIF}>(c)</T>

      {/* ---- panel (d) texts ---- */}
      <T x={695} y={447} size={14}>Baryon Acoustic Oscillations</T>
      <T x={695} y={765} size={13}>Redshift <i>z</i></T>
      <T x={488} y={599} size={13} rot={-90}>Angular Scale <i>θ</i>(<i>z</i>)</T>
      <T x={566} y={481} size={19} weight="bold" family={SERIF}>(d)</T>
    </div>
  );
}
